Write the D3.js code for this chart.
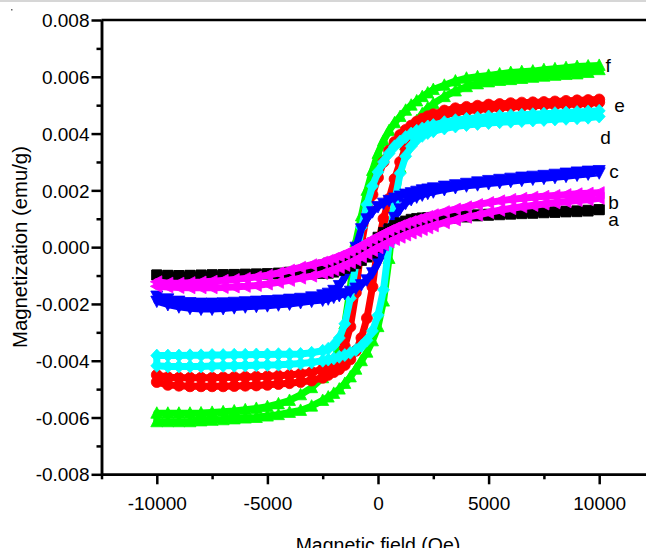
<!DOCTYPE html>
<html lang="en">
<head>
<meta charset="UTF-8">
<title>Magnetization loops</title>
<style>
    body {
        margin: 0;
        background: #fff;
        font-family: "Liberation Sans", Arial, Helvetica, sans-serif;
    }
    svg { display: block; }
    .axis path, .axis line {
        stroke: #000;
        stroke-width: 2.5;
    }
    .axis text {
        font-family: "Liberation Sans", Arial, sans-serif;
        font-size: 19px;
        fill: #000;
    }
    .title { font-size: 19.5px; fill: #000; }
    .ytitle { font-size: 20.3px; fill: #000; }
    .tag { font-size: 19px; fill: #000; }
</style>
</head>
<body>
<svg id="chart" width="646" height="548"></svg>

<script src="https://d3js.org/d3.v7.min.js"></script>
<script>
    // applied field (Oe), shared by every branch
    const field = [
        -10000, -9500, -9000, -8500, -8000, -7500, -7000, -6500, -6000, -5500, -5000, -4500, -4000, -3500, -3000, -2500,
        -2250, -2000, -1750, -1500, -1250, -1000, -750, -500, -250, 0, 250, 500, 750, 1000, 1250, 1500, 1750, 2000, 2250,
        2500, 3000, 3500, 4000, 4500, 5000, 5500, 6000, 6500, 7000, 7500, 8000, 8500, 9000, 9500, 10000
    ];

    // magnetization in 1e-3 emu/g
    // "Desc" = sweep coming down from +10 kOe, "Asc" = sweep going up from -10 kOe
    const aDesc = [
        -0.98, -0.99, -1.0, -0.99, -0.98, -0.97, -0.97, -0.96, -0.95, -0.94, -0.93, -0.91, -0.88, -0.82, -0.74, -0.63,
        -0.56, -0.52, -0.46, -0.39, -0.31, -0.22, -0.11, 0.01, 0.15, 0.35, 0.52, 0.65, 0.76, 0.86, 0.92, 0.98, 1.01, 1.03, 1.04,
        1.05, 1.07, 1.1, 1.12, 1.14, 1.16, 1.18, 1.19, 1.21, 1.22, 1.24, 1.25, 1.27, 1.28, 1.3, 1.32
    ];
    const aAsc = [
        -0.98, -1.0, -1.0, -1.0, -0.99, -0.98, -0.97, -0.97, -0.96, -0.96, -0.95, -0.95, -0.95, -0.94, -0.94, -0.93,
        -0.92, -0.88, -0.82, -0.75, -0.67, -0.58, -0.47, -0.35, -0.21, -0.01, 0.16, 0.29, 0.4, 0.5, 0.58, 0.64, 0.69, 0.74, 0.78,
        0.85, 0.95, 1.02, 1.06, 1.1, 1.12, 1.14, 1.16, 1.18, 1.19, 1.21, 1.22, 1.24, 1.25, 1.27, 1.32
    ];
    const bDesc = [
        -1.22, -1.27, -1.27, -1.25, -1.23, -1.2, -1.17, -1.14, -1.1, -1.05, -0.99, -0.91, -0.81, -0.71, -0.62, -0.53,
        -0.47, -0.4, -0.32, -0.24, -0.15, -0.05, 0.06, 0.17, 0.28, 0.38, 0.48, 0.58, 0.67, 0.75, 0.83, 0.9, 0.96, 1.02, 1.08,
        1.14, 1.25, 1.34, 1.42, 1.5, 1.57, 1.63, 1.68, 1.72, 1.76, 1.79, 1.82, 1.85, 1.88, 1.9, 1.92
    ];
    const bAsc = [
        -1.38, -1.4, -1.42, -1.43, -1.43, -1.43, -1.42, -1.4, -1.38, -1.35, -1.3, -1.24, -1.17, -1.09, -1.02, -0.93,
        -0.87, -0.8, -0.72, -0.64, -0.55, -0.45, -0.34, -0.23, -0.12, -0.02, 0.08, 0.18, 0.27, 0.35, 0.43, 0.5, 0.56, 0.62, 0.68,
        0.75, 0.86, 0.96, 1.05, 1.13, 1.22, 1.3, 1.36, 1.42, 1.47, 1.52, 1.56, 1.6, 1.64, 1.67, 1.72
    ];
    const cDesc = [
        -1.72, -1.82, -1.9, -1.95, -1.97, -1.97, -1.96, -1.94, -1.92, -1.9, -1.88, -1.86, -1.83, -1.8, -1.75, -1.68,
        -1.62, -1.52, -1.35, -1.05, -0.6, 0.0, 0.65, 1.0, 1.25, 1.43, 1.55, 1.65, 1.73, 1.8, 1.87, 1.92, 1.97, 2.02, 2.05,
        2.09, 2.15, 2.2, 2.25, 2.3, 2.35, 2.39, 2.43, 2.47, 2.5, 2.53, 2.57, 2.61, 2.65, 2.68, 2.7
    ];
    const cAsc = [
        -1.9, -2.02, -2.1, -2.15, -2.18, -2.18, -2.16, -2.13, -2.1, -2.08, -2.06, -2.03, -2.0, -1.95, -1.9, -1.86,
        -1.82, -1.76, -1.7, -1.63, -1.55, -1.44, -1.32, -1.15, -0.9, -0.55, -0.05, 0.6, 1.05, 1.35, 1.55, 1.68, 1.77, 1.84, 1.9,
        1.95, 2.03, 2.1, 2.16, 2.2, 2.24, 2.28, 2.32, 2.36, 2.4, 2.43, 2.46, 2.5, 2.54, 2.58, 2.62
    ];
    const dDesc = [
        -3.82, -3.82, -3.82, -3.81, -3.81, -3.8, -3.8, -3.79, -3.79, -3.78, -3.78, -3.77, -3.77, -3.76, -3.72, -3.65,
        -3.58, -3.45, -3.2, -2.7, -1.8, -0.6, 0.7, 1.5, 2.15, 2.65, 3.0, 3.3, 3.55, 3.72, 3.88, 4.0, 4.1, 4.18, 4.25,
        4.3, 4.4, 4.47, 4.52, 4.56, 4.6, 4.62, 4.64, 4.66, 4.68, 4.7, 4.72, 4.74, 4.76, 4.78, 4.8
    ];
    const dAsc = [
        -4.18, -4.2, -4.2, -4.2, -4.2, -4.19, -4.18, -4.18, -4.17, -4.16, -4.15, -4.14, -4.12, -4.1, -4.06, -4.0,
        -3.96, -3.92, -3.86, -3.8, -3.72, -3.62, -3.48, -3.28, -2.95, -2.4, -1.5, 0.1, 1.6, 2.6, 3.2, 3.55, 3.78, 3.92, 4.02,
        4.08, 4.18, 4.25, 4.3, 4.34, 4.37, 4.4, 4.42, 4.44, 4.46, 4.48, 4.5, 4.52, 4.54, 4.56, 4.6
    ];
    const eDesc = [
        -4.5, -4.58, -4.6, -4.6, -4.6, -4.6, -4.59, -4.58, -4.57, -4.56, -4.55, -4.53, -4.5, -4.46, -4.4, -4.3,
        -4.22, -4.1, -3.9, -3.5, -2.8, -1.6, 0.1, 1.2, 1.85, 2.45, 3.0, 3.4, 3.7, 3.95, 4.13, 4.28, 4.42, 4.52, 4.61,
        4.68, 4.81, 4.89, 4.94, 4.98, 5.02, 5.04, 5.07, 5.09, 5.1, 5.11, 5.13, 5.15, 5.17, 5.18, 5.2
    ];
    const eAsc = [
        -4.75, -4.85, -4.88, -4.9, -4.9, -4.9, -4.9, -4.89, -4.88, -4.87, -4.85, -4.82, -4.79, -4.75, -4.7, -4.6,
        -4.5, -4.4, -4.3, -4.15, -3.95, -3.65, -3.2, -2.5, -1.4, 0.1, 1.0, 1.7, 2.4, 3.0, 3.5, 3.9, 4.15, 4.3, 4.42,
        4.52, 4.65, 4.74, 4.8, 4.85, 4.88, 4.91, 4.94, 4.96, 4.98, 5.0, 5.01, 5.02, 5.04, 5.06, 5.1
    ];
    const fDesc = [
        -5.85, -5.85, -5.85, -5.85, -5.84, -5.82, -5.8, -5.77, -5.73, -5.68, -5.62, -5.52, -5.4, -5.2, -4.95, -4.6,
        -4.35, -4.0, -3.5, -2.7, -1.4, 0.2, 1.1, 2.0, 2.7, 3.3, 3.75, 4.1, 4.38, 4.6, 4.82, 5.0, 5.15, 5.3, 5.43,
        5.55, 5.7, 5.85, 5.95, 6.0, 6.05, 6.1, 6.15, 6.18, 6.2, 6.25, 6.28, 6.32, 6.36, 6.38, 6.4
    ];
    const fAsc = [
        -6.15, -6.15, -6.15, -6.15, -6.12, -6.1, -6.08, -6.05, -6.02, -6.0, -5.95, -5.9, -5.82, -5.75, -5.6, -5.4,
        -5.28, -5.15, -5.0, -4.8, -4.57, -4.3, -4.0, -3.7, -3.3, -2.8, -1.9, -0.4, 1.4, 2.8, 3.6, 4.1, 4.45, 4.7, 4.9,
        5.05, 5.3, 5.5, 5.65, 5.75, 5.82, 5.87, 5.9, 5.94, 5.98, 6.02, 6.05, 6.08, 6.1, 6.15, 6.25
    ];

    // axis ticks
    const xMajor = [-10000, -5000, 0, 5000, 10000];
    const xMinor = [-12500, -7500, -2500, 2500, 7500, 12500];
    const yMajor = [-0.008, -0.006, -0.004, -0.002, 0, 0.002, 0.004, 0.006, 0.008];
    const yMinor = [-0.007, -0.005, -0.003, -0.001, 0.001, 0.003, 0.005, 0.007];

    // curve letters, placed in data units (Oe, 1e-3 emu/g)
    const tags = [
        { name: "f", h: 10280, m: 6.17 },
        { name: "e", h: 10680, m: 4.76 },
        { name: "d", h: 10050, m: 3.63 },
        { name: "c", h: 10450, m: 2.44 },
        { name: "b", h: 10410, m: 1.35 },
        { name: "a", h: 10410, m: 0.75 }
    ];

    // drawing order follows the picture: green at the back, magenta on top
    const series = [
        { name: "f", color: "#00ff00", marker: "up", desc: fDesc, asc: fAsc },
        { name: "e", color: "#ff0000", marker: "circle", desc: eDesc, asc: eAsc },
        { name: "d", color: "#00ffff", marker: "diamond", desc: dDesc, asc: dAsc },
        { name: "c", color: "#0000ff", marker: "down", desc: cDesc, asc: cAsc },
        { name: "a", color: "#000000", marker: "square", desc: aDesc, asc: aAsc },
        { name: "b", color: "#ff00ff", marker: "left", desc: bDesc, asc: bAsc }
    ];

    const svg = d3.select("#chart");

    const x = d3.scaleLinear().domain([-12500, 12500]).range([101.5, 654.5]);
    const y = d3.scaleLinear().domain([-0.008, 0.008]).range([474.3, 20]);

    // scanner strip at the very top of the picture
    svg.append("rect")
        .attr("x", 0).attr("y", 0)
        .attr("width", 646).attr("height", 2)
        .attr("fill", "#d6d6d6");
    svg.append("rect")
        .attr("x", 11).attr("y", 9)
        .attr("width", 1.5).attr("height", 1.5)
        .attr("fill", "#666");

    function markerPath(kind) {
        switch (kind) {
            case "square": return "M-5,-5H5V5H-5Z";
            case "circle": return "M-5.5,0A5.5,5.5 0 1,0 5.5,0A5.5,5.5 0 1,0 -5.5,0Z";
            case "up": return "M0,-6.5L6,5L-6,5Z";
            case "down": return "M0,6.5L6,-5L-6,-5Z";
            case "left": return "M-6.5,0L5,-6L5,6Z";
            case "diamond": return "M0,-6.5L6,0L0,6.5L-6,0Z";
        }
    }

    const line = d3.line()
        .x(d => x(d.h))
        .y(d => y(d.m / 1000));

    series.forEach(s => {
        // one closed loop: down from +10 kOe, then back up
        const down = s.desc.map((m, i) => ({ h: field[i], m: m })).reverse();
        const up = s.asc.map((m, i) => ({ h: field[i], m: m }));
        const pts = down.concat(up);

        const g = svg.append("g").attr("class", "series-" + s.name);

        g.append("path")
            .datum(pts)
            .attr("d", line)
            .attr("fill", "none")
            .attr("stroke", s.color)
            .attr("stroke-width", 7)
            .attr("stroke-linejoin", "round");

        g.selectAll("path.pt")
            .data(pts)
            .join("path")
            .attr("class", "pt")
            .attr("d", markerPath(s.marker))
            .attr("transform", d => `translate(${x(d.h)},${y(d.m / 1000)})`)
            .attr("fill", s.color)
            .attr("stroke", s.color)
            .attr("stroke-width", 0.8);
    });

    // axes
    const fmtY = d => d.toFixed(3);

    svg.append("g")
        .attr("class", "axis")
        .attr("transform", "translate(101.5,0)")
        .call(d3.axisLeft(y).tickValues(yMinor).tickSize(5).tickSizeOuter(0).tickFormat(""));

    const yAxis = svg.append("g")
        .attr("class", "axis")
        .attr("transform", "translate(101.5,0)")
        .call(d3.axisLeft(y).tickValues(yMajor).tickSize(10).tickSizeOuter(0).tickFormat(fmtY));
    yAxis.selectAll("text").attr("x", -12).attr("dy", "0.35em");

    svg.append("g")
        .attr("class", "axis")
        .attr("transform", "translate(0,474.3)")
        .call(d3.axisBottom(x).tickValues(xMinor).tickSize(5).tickSizeOuter(0).tickFormat(""));

    const xAxis = svg.append("g")
        .attr("class", "axis")
        .attr("transform", "translate(0,474.3)")
        .call(d3.axisBottom(x).tickValues(xMajor).tickSize(10).tickSizeOuter(0).tickFormat(d => String(d)));
    xAxis.selectAll("text").attr("y", 36).attr("dy", 0);

    // top frame line
    svg.append("line")
        .attr("x1", x(-12500)).attr("x2", 646)
        .attr("y1", y(0.008)).attr("y2", y(0.008))
        .attr("stroke", "#000")
        .attr("stroke-width", 2.5);

    // axis titles
    svg.append("text")
        .attr("class", "title")
        .attr("x", x(0))
        .attr("y", 551.5)
        .attr("text-anchor", "middle")
        .text("Magnetic field (Oe)");

    svg.append("text")
        .attr("class", "ytitle")
        .attr("transform", "translate(27,247) rotate(-90)")
        .attr("text-anchor", "middle")
        .text("Magnetization (emu/g)");

    // curve letters
    svg.selectAll("text.tag")
        .data(tags)
        .join("text")
        .attr("class", "tag")
        .attr("x", d => x(d.h))
        .attr("y", d => y(d.m / 1000))
        .text(d => d.name);
</script>
</body>
</html>
